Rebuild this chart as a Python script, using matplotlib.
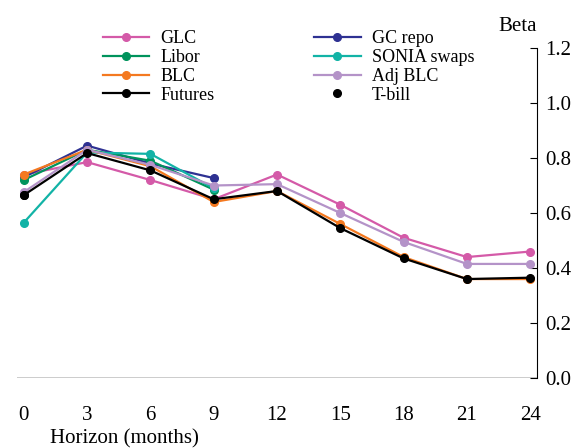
import matplotlib
matplotlib.use("Agg")
import matplotlib.pyplot as plt

horizon = [0, 3, 6, 9, 12, 15, 18, 21, 24]
glc = [0.74, 0.785, 0.72, 0.65, 0.74, 0.63, 0.51, 0.44, 0.46]
gc_repo = [0.73, 0.845, 0.78, 0.727]
libor = [0.72, 0.83, 0.79, 0.685]
sonia = [0.565, 0.82, 0.815, 0.69]
blc = [0.74, 0.83, 0.77, 0.64, 0.68, 0.56, 0.44, 0.36, 0.36]
adj_blc = [0.676, 0.83, 0.775, 0.70, 0.705, 0.60, 0.495, 0.415, 0.415]
futures = [0.665, 0.818, 0.755, 0.65, 0.68, 0.545, 0.435, 0.36, 0.365]
tbill_x = [0]
tbill = [0.665]

plt.rcParams['font.family'] = ['Liberation Serif', 'DejaVu Serif']
fig = plt.figure(figsize=(5.82, 4.48), dpi=100)
ax = fig.add_axes([0.03, 0.156, 0.892, 0.737])

series = [
    ("GLC", glc, "#d45aa8"),
    ("GC repo", gc_repo, "#2e3192"),
    ("Libor", libor, "#00935c"),
    ("SONIA swaps", sonia, "#12b3a6"),
    ("BLC", blc, "#f47920"),
    ("Adj BLC", adj_blc, "#b493c8"),
    ("Futures", futures, "#000000"),
]
h = {}
for name, vals, c in series:
    h[name], = ax.plot(horizon[:len(vals)], vals, color=c, marker='o', ms=5.5, lw=1.6, label=name)
h['T-bill'], = ax.plot(tbill_x, tbill, 'o', color='black', ms=5.5, label='T-bill')

ax.set_xlim(-0.3, 24.3)
ax.set_ylim(0, 1.2)
ax.yaxis.tick_right()
yt = [0, 0.2, 0.4, 0.6, 0.8, 1.0, 1.2]
ax.set_yticks(yt)
ax.set_yticklabels([f"{v:.1f}" for v in yt], fontsize=15)
ax.set_xticks(horizon)
ax.set_xticklabels([str(v) for v in horizon], fontsize=15)
ax.tick_params(axis='y', direction='in', length=5, pad=6)
ax.tick_params(axis='x', length=0, pad=20)
for s in ['top', 'left', 'bottom']:
    ax.spines[s].set_visible(False)
ax.axhline(0, color='black', lw=1)
ax.text(1.0, 1.05, "Beta", transform=ax.transAxes, ha='right', fontsize=15)
fig.text(0.086, -0.002, "Horizon (months)", fontsize=15, ha='left', va='bottom')
order = ["GLC", "Libor", "BLC", "Futures", "GC repo", "SONIA swaps", "Adj BLC", "T-bill"]
ax.legend([h[k] for k in order], order, ncol=2, loc='upper left', bbox_to_anchor=(0.15, 1.075),
          frameon=False, fontsize=13, handlelength=2.6, labelspacing=0.1, columnspacing=5.5,
          handletextpad=0.6, borderaxespad=0)
fig.savefig("out.png", dpi=100)
